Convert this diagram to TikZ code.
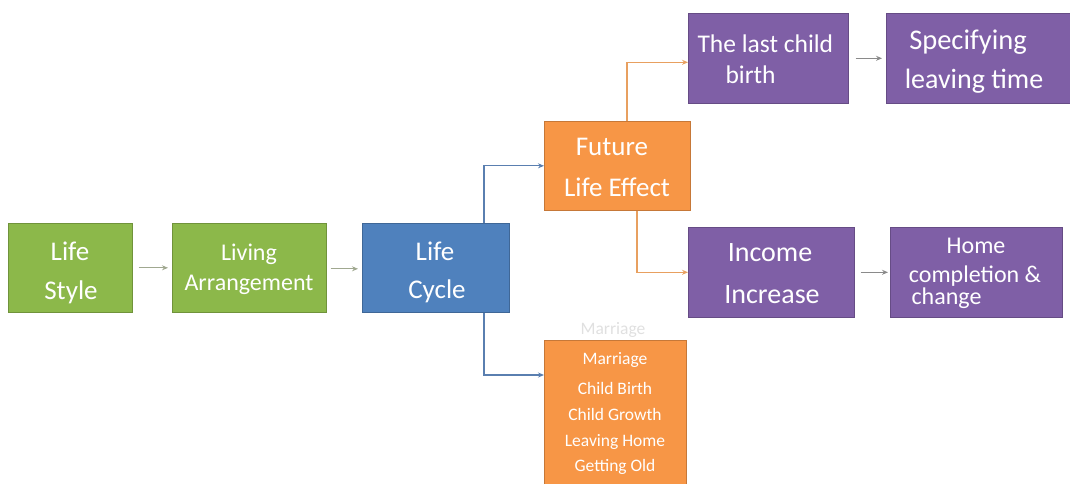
\documentclass[tikz,border=0pt]{standalone}
\usepackage{fontspec}
\setmainfont{Carlito}
\usetikzlibrary{arrows.meta}
\definecolor{cgreen}{HTML}{8CB84A}
\definecolor{cblue}{HTML}{4F81BD}
\definecolor{corange}{HTML}{F79646}
\definecolor{cpurple}{HTML}{7F5FA6}
\definecolor{cblueline}{HTML}{5A7FB0}
\definecolor{coraline}{HTML}{E8A060}
\definecolor{cgrayline}{HTML}{8A8A8A}
\definecolor{cgreenline}{HTML}{A0A890}
\begin{document}
\begin{tikzpicture}[x=1pt,y=-1pt,
  box/.style={draw=#1!80!black,line width=0.6pt,fill=#1,inner sep=0pt,text=white},
  arr/.style={draw=#1,line width=1.2pt,-{Stealth[length=6pt,width=5pt]}},
  big/.style={font=\fontsize{27}{32}\selectfont},
  mid/.style={font=\fontsize{24}{28}\selectfont},
  small/.style={font=\fontsize{17.5}{21}\selectfont}]
\useasboundingbox (0,0) rectangle (1070,483);
% boxes
\node[box=cgreen,minimum width=124pt,minimum height=89pt,anchor=north west] (ls) at (8,223) {};
\node[white,big] (t1) at (70,251) {Life};
\node[white,big] (t2) at (71,292) {Style};
\node[box=cgreen,minimum width=154pt,minimum height=89pt,anchor=north west] (la) at (172,223) {};
\node[white,mid] (t3) at (249,254) {Living};
\node[white,mid] (t4) at (249,285) {Arrangement};
\node[box=cblue,minimum width=147pt,minimum height=89pt,anchor=north west] (lc) at (362,223) {};
\node[white,big] (t5) at (435,251) {Life};
\node[white,big] (t6) at (437,291) {Cycle};
\node[box=corange,minimum width=146pt,minimum height=89pt,anchor=north west] (fe) at (544,121) {};
\node[white,big] (t7) at (612,147) {Future};
\node[white,big] (t8) at (617,187) {Life Effect};
\node[box=cpurple,minimum width=160pt,minimum height=90pt,anchor=north west] (lcb) at (688,13) {};
\node[white,font=\fontsize{25.5}{30}\selectfont,anchor=west] (t9) at (694,44) {The last child};
\node[white,font=\fontsize{25.5}{30}\selectfont,anchor=west] (t10) at (722,75) {birth};
\node[box=cpurple,minimum width=184pt,minimum height=90pt,anchor=north west] (slt) at (886,13) {};
\node[white,font=\fontsize{28.5}{33}\selectfont] (t11) at (968,42) {Specifying};
\node[white,font=\fontsize{28}{33}\selectfont] (t12) at (974,81) {leaving time};
\node[box=cpurple,minimum width=166pt,minimum height=90pt,anchor=north west] (ii) at (688,227) {};
\node[white,font=\fontsize{28}{33}\selectfont] (t13) at (770,253) {Income};
\node[white,font=\fontsize{28}{33}\selectfont] (t14) at (772,295) {Increase};
\node[box=cpurple,minimum width=172pt,minimum height=90pt,anchor=north west] (hc) at (890,227) {};
\node[white,mid] (t15) at (976,246) {Home};
\node[white,mid] (t16) at (975,276) {completion \&};
\node[white,mid,anchor=west] (t17) at (908,298) {change};
\node[box=corange,minimum width=142pt,minimum height=150pt,anchor=north west] (lst) at (544,340) {};
\node[black!12,small] (t18) at (613,330) {Marriage};
\node[white,small] (l1) at (615,360) {Marriage};
\node[white,small] (l2) at (615,388) {Child Birth};
\node[white,small] (l3) at (615,414) {Child Growth};
\node[white,small] (l4) at (615,442) {Leaving Home};
\node[white,small] (l5) at (615,467) {Getting Old};
% connectors
\draw[arr=cgreenline] ([xshift=6pt]ls.east) -- ([xshift=-4pt]la.west);
\draw[arr=cgreenline] ([xshift=4pt,yshift=-1pt]la.east) -- ([xshift=-4pt,yshift=-1pt]lc.west);
\draw[arr=cblueline] (lc.north -| 484,0) |- (fe.west);
\draw[arr=cblueline] (lc.south -| 484,0) |- (544,375);
\draw[arr=coraline] (fe.north -| 627,0) |- ([yshift=-4pt]lcb.west);
\draw[arr=coraline] (fe.south -| 637,0) |- (ii.west);
\draw[arr=cgrayline] ([xshift=7pt]lcb.east) -- ([xshift=-4pt]slt.west);
\draw[arr=cgrayline] ([xshift=6pt]ii.east) -- ([xshift=-2pt]hc.west);
\end{tikzpicture}
\end{document}
